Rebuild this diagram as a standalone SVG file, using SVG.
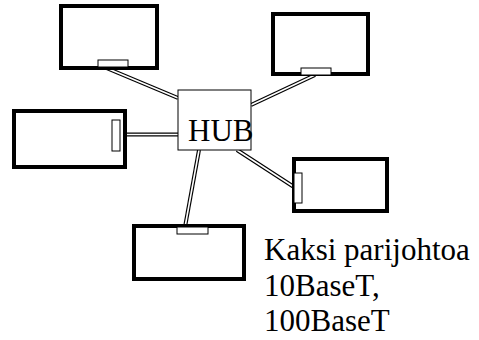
<svg xmlns="http://www.w3.org/2000/svg" width="479" height="340" viewBox="0 0 479 340">
<style>
.box{fill:#fff;stroke:#000;stroke-width:4}
.port{fill:#fff;stroke:#000;stroke-width:1}
.hub{fill:#fff;stroke:#000;stroke-width:1}
.wo{stroke:#000;stroke-width:4;fill:none}
.wi{stroke:#fff;stroke-width:1.6;fill:none}
.t{font-size:31px;fill:#000;font-family:'Times New Roman','Liberation Serif',serif}
</style>
<rect width="479" height="340" fill="#fff"/>
<g id="connectors">
<line class="wo" x1="104" y1="67" x2="178" y2="98"/>
<line class="wi" x1="104" y1="67" x2="178" y2="98"/>
<line class="wo" x1="315" y1="75" x2="251" y2="105"/>
<line class="wi" x1="315" y1="75" x2="251" y2="105"/>
<line class="wo" x1="120" y1="134.5" x2="178" y2="134.5"/>
<line class="wi" x1="120" y1="134.5" x2="178" y2="134.5"/>
<line class="wo" x1="237" y1="150" x2="294" y2="187"/>
<line class="wi" x1="237" y1="150" x2="294" y2="187"/>
<line class="wo" x1="199" y1="150" x2="185" y2="227"/>
<line class="wi" x1="199" y1="150" x2="185" y2="227"/>
</g>
<g id="hub">
<rect class="hub" x="178" y="90" width="73" height="60"/>
<text class="t" x="188" y="141">HUB</text>
</g>
<g id="pc1">
<rect class="box" x="61" y="6" width="96" height="62"/>
<rect class="port" x="98" y="60" width="30" height="7"/>
</g>
<g id="pc2">
<rect class="box" x="273" y="14" width="95" height="60"/>
<rect class="port" x="301" y="68" width="30" height="7"/>
</g>
<g id="pc3">
<rect class="box" x="14" y="111" width="111" height="56"/>
<rect class="port" x="112" y="120" width="8" height="31"/>
</g>
<g id="pc4">
<rect class="box" x="294" y="159" width="93" height="52"/>
<rect class="port" x="294" y="173" width="8" height="30"/>
</g>
<g id="pc5">
<rect class="box" x="134" y="226" width="110" height="53"/>
<rect class="port" x="177" y="227" width="31" height="7"/>
</g>
<g id="label">
<text class="t" x="264" y="260">Kaksi parijohtoa</text>
<text class="t" x="264" y="296">10BaseT,</text>
<text class="t" x="264" y="331">100BaseT</text>
</g>
</svg>
